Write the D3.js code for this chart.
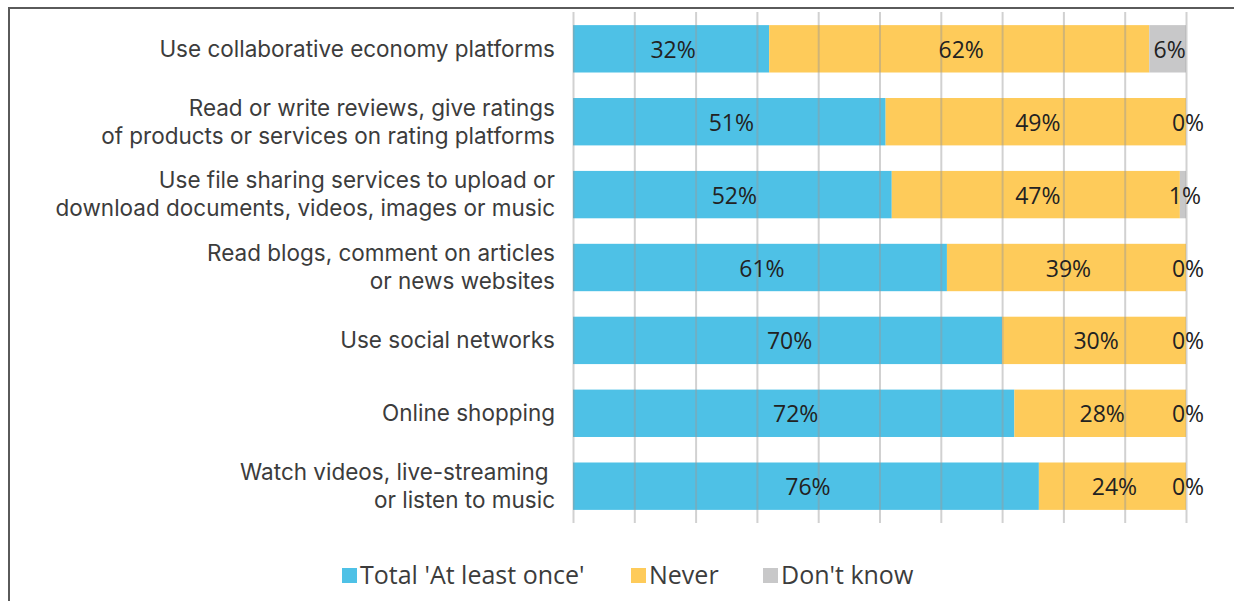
<!DOCTYPE html>
<html>
<head>
<meta charset="utf-8">
<script src="https://cdn.jsdelivr.net/npm/d3@7"></script>
<style>
  body { margin: 0; background: #fff; }
  svg { display: block; }
</style>
</head>
<body>
<div id="chart"></div>
<script>
// Data (percent of respondents)
const categories = [
    ["Use collaborative economy platforms"],
    ["Read or write reviews, give ratings", "of products or services on rating platforms"],
    ["Use file sharing services to upload or", "download documents, videos, images or music"],
    ["Read blogs, comment on articles", "or news websites"],
    ["Use social networks"],
    ["Online shopping"],
    ["Watch videos, live-streaming ", "or listen to music"]
];
const atLeastOnce = [32, 51, 52, 61, 70, 72, 76];
const never = [62, 49, 47, 39, 30, 28, 24];
const dontKnow = [6, 0, 1, 0, 0, 0, 0];

const seriesNames = ["Total 'At least once'", "Never", "Don't know"];
const seriesColors = ["#4ec1e6", "#fecb5a", "#c8c8c9"];
const gridTicks = [0, 10, 20, 30, 40, 50, 60, 70, 80, 90, 100];

const W = 1234, H = 601;
const x0 = 573, x1 = 1186;
const plotTop = 12, plotBottom = 523;

const svg = d3.select("#chart").append("svg")
    .attr("width", W)
    .attr("height", H);

// outer frame (runs off the right and bottom edges)
svg.append("rect")
    .attr("x", 9).attr("y", 8)
    .attr("width", 1400).attr("height", 800)
    .attr("fill", "none")
    .attr("stroke", "#5a5a5a")
    .attr("stroke-width", 2);

const xScale = d3.scaleLinear().domain([0, 100]).range([x0, x1]);
const yScale = d3.scaleBand()
    .domain(d3.range(categories.length))
    .range([plotTop, plotBottom])
    .paddingInner(0.35)
    .paddingOuter(0.18);

// stack rows
const rows = categories.map((c, i) => ({ i, values: [atLeastOnce[i], never[i], dontKnow[i]] }));
const segs = [];
rows.forEach(r => {
    let acc = 0;
    r.values.forEach((v, k) => {
        segs.push({ row: r.i, k, v, start: acc, end: acc + v });
        acc += v;
    });
});

svg.append("g").selectAll("rect")
    .data(segs)
    .join("rect")
    .attr("x", d => xScale(d.start))
    .attr("y", d => yScale(d.row))
    .attr("width", d => xScale(d.end) - xScale(d.start))
    .attr("height", yScale.bandwidth())
    .attr("fill", d => seriesColors[d.k]);

// gridlines on top of bars
const grid = d3.axisBottom(xScale)
    .tickValues(gridTicks)
    .tickSize(plotBottom - plotTop)
    .tickFormat("");
svg.append("g")
    .attr("transform", `translate(0, ${plotTop})`)
    .call(grid)
    .call(g => g.select(".domain").remove())
    .call(g => g.selectAll(".tick line")
        .attr("stroke", "#9a9a9a")
        .attr("stroke-opacity", 0.45)
        .attr("stroke-width", 2));

// value labels
svg.append("g").selectAll("text")
    .data(segs)
    .join("text")
    .attr("x", d => xScale((d.start + d.end) / 2) + 2)
    .attr("y", d => yScale(d.row) + yScale.bandwidth() / 2 + 1)
    .attr("dy", "0.35em")
    .attr("text-anchor", "middle")
    .attr("font-family", "'Open Sans', sans-serif")
    .attr("font-size", "23px")
    .attr("fill", "#222")
    .text(d => d.v + "%");

// category labels
const labels = svg.append("g").selectAll("text")
    .data(categories)
    .join("text")
    .attr("text-anchor", "end")
    .attr("font-family", "Inter, sans-serif")
    .attr("font-size", "22.5px")
    .attr("fill", "#3c3c3c")
    .attr("transform", (d, i) => `translate(555, ${yScale(i) + yScale.bandwidth() / 2})`);

labels.selectAll("tspan")
    .data(d => d.map((line, j) => ({ line, j, n: d.length })))
    .join("tspan")
    .attr("x", 0)
    .attr("y", d => (d.j - (d.n - 1) / 2) * 28)
    .attr("dy", "0.35em")
    .attr("xml:space", "preserve")
    .text(d => d.line);

// legend
const legendX = [342, 631, 763];
const legend = svg.append("g").selectAll("g")
    .data(seriesNames)
    .join("g")
    .attr("transform", (d, i) => `translate(${legendX[i]}, 575)`);

legend.append("rect")
    .attr("x", 0).attr("y", -7)
    .attr("width", 15).attr("height", 15)
    .attr("fill", (d, i) => seriesColors[i]);

legend.append("text")
    .attr("x", 18)
    .attr("dy", "0.35em")
    .attr("font-family", "'Open Sans', sans-serif")
    .attr("font-size", "25px")
    .attr("fill", "#3c3c3c")
    .text(d => d);
</script>
</body>
</html>
